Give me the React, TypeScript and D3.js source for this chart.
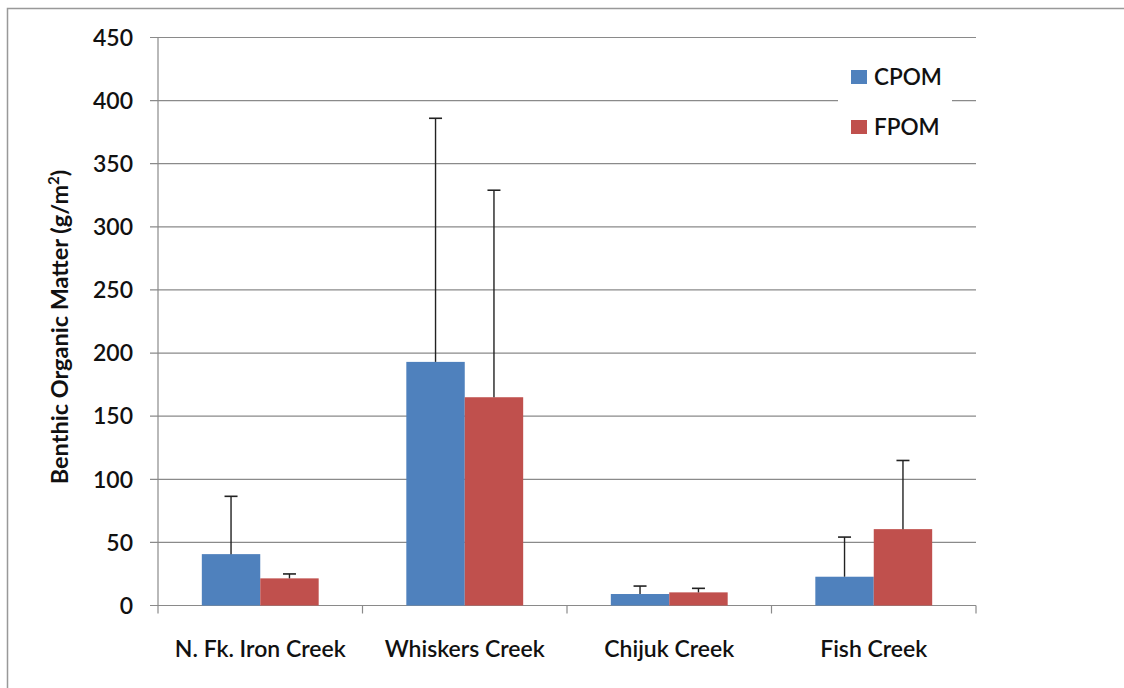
import React from "react";
import * as d3 from "d3";

const categories = ["N. Fk. Iron Creek", "Whiskers Creek", "Chijuk Creek", "Fish Creek"];
const seriesNames = ["CPOM", "FPOM"];
const cpomValues = [40.7, 193, 9.1, 22.8];
const cpomErrors = [45.8, 193, 6.3, 31.4];
const fpomValues = [21.5, 165, 10.4, 60.5];
const fpomErrors = [3.5, 164, 3.2, 54.4];
const yTicks = [0, 50, 100, 150, 200, 250, 300, 350, 400, 450];
const colors = ["#4F81BD", "#C0504D"];

const W = 1124;
const H = 688;
const plotLeft = 158;
const plotRight = 976;
const plotTop = 37.5;
const plotBottom = 605.5;
const font = "Lato, 'Open Sans', sans-serif";

export default function App() {
  const x = d3.scaleBand<string>().domain(categories).range([plotLeft, plotRight]).paddingInner(0).paddingOuter(0);
  const y = d3.scaleLinear().domain([0, 450]).range([plotBottom, plotTop]);
  // Excel gap width 150%: band = 3.5 bar widths
  const barW = x.bandwidth() / 3.5;
  const series = [
    { name: "CPOM", values: cpomValues, errors: cpomErrors },
    { name: "FPOM", values: fpomValues, errors: fpomErrors },
  ];
  return (
    <svg width={W} height={H} style={{ position: "absolute", left: 0, top: 0, background: "#fff" }}>
      <rect x={0} y={0} width={W} height={H} fill="#fff" />
      <rect x={7.5} y={8.5} width={W + 20} height={H + 20} fill="#fff" stroke="#999" strokeWidth={1.5} />
      {yTicks.map((t) => (
        <g key={t}>
          <line x1={plotLeft - 8} x2={plotRight} y1={y(t)} y2={y(t)} stroke="#8a8a8a" strokeWidth={1.2} />
          <text x={133} y={y(t)} dy="0.36em" textAnchor="end" fontFamily={font} fontWeight={600} fontSize={23} fill="#111">
            {t}
          </text>
        </g>
      ))}
      <line x1={plotLeft} x2={plotLeft} y1={plotTop} y2={plotBottom} stroke="#8a8a8a" strokeWidth={1.2} />
      {categories.map((c, i) => (
        <line key={"ct" + i} x1={x(c)!} x2={x(c)!} y1={plotBottom} y2={plotBottom + 8} stroke="#8a8a8a" strokeWidth={1.2} />
      ))}
      <line x1={plotRight} x2={plotRight} y1={plotBottom} y2={plotBottom + 8} stroke="#8a8a8a" strokeWidth={1.2} />
      {categories.map((c, i) =>
        series.map((s, si) => {
          const bx = x(c)! + x.bandwidth() / 2 - barW + si * barW;
          const v = s.values[i];
          const top = y(v);
          const et = y(v + s.errors[i]);
          const cx = bx + barW / 2;
          return (
            <g key={c + s.name}>
              <rect x={bx} y={top} width={barW} height={plotBottom - top} fill={colors[si]} />
              <line x1={cx} x2={cx} y1={top} y2={et} stroke="#222" strokeWidth={1.4} />
              <line x1={cx - 6.5} x2={cx + 6.5} y1={et} y2={et} stroke="#222" strokeWidth={1.6} />
            </g>
          );
        })
      )}
      {categories.map((c) => (
        <text key={"cl" + c} x={x(c)! + x.bandwidth() / 2} y={657} textAnchor="middle" fontFamily={font} fontWeight={600} fontSize={23} fill="#111">
          {c}
        </text>
      ))}
      <text transform={`translate(68, 327) rotate(-90)`} textAnchor="middle" fontFamily={font} fontWeight={700} fontSize={23.5} fill="#111">
        Benthic Organic Matter (g/m<tspan dy={-9} fontSize={15}>2</tspan><tspan dy={9}>)</tspan>
      </text>
      <rect x={838} y={55} width={114} height={95} fill="#fff" />
      {seriesNames.map((n, i) => (
        <g key={n}>
          <rect x={851} y={70 + i * 50} width={16} height={14} fill={colors[i]} />
          <text x={874} y={84.5 + i * 50} fontFamily={font} fontWeight={600} fontSize={22.5} fill="#111">
            {n}
          </text>
        </g>
      ))}
    </svg>
  );
}
